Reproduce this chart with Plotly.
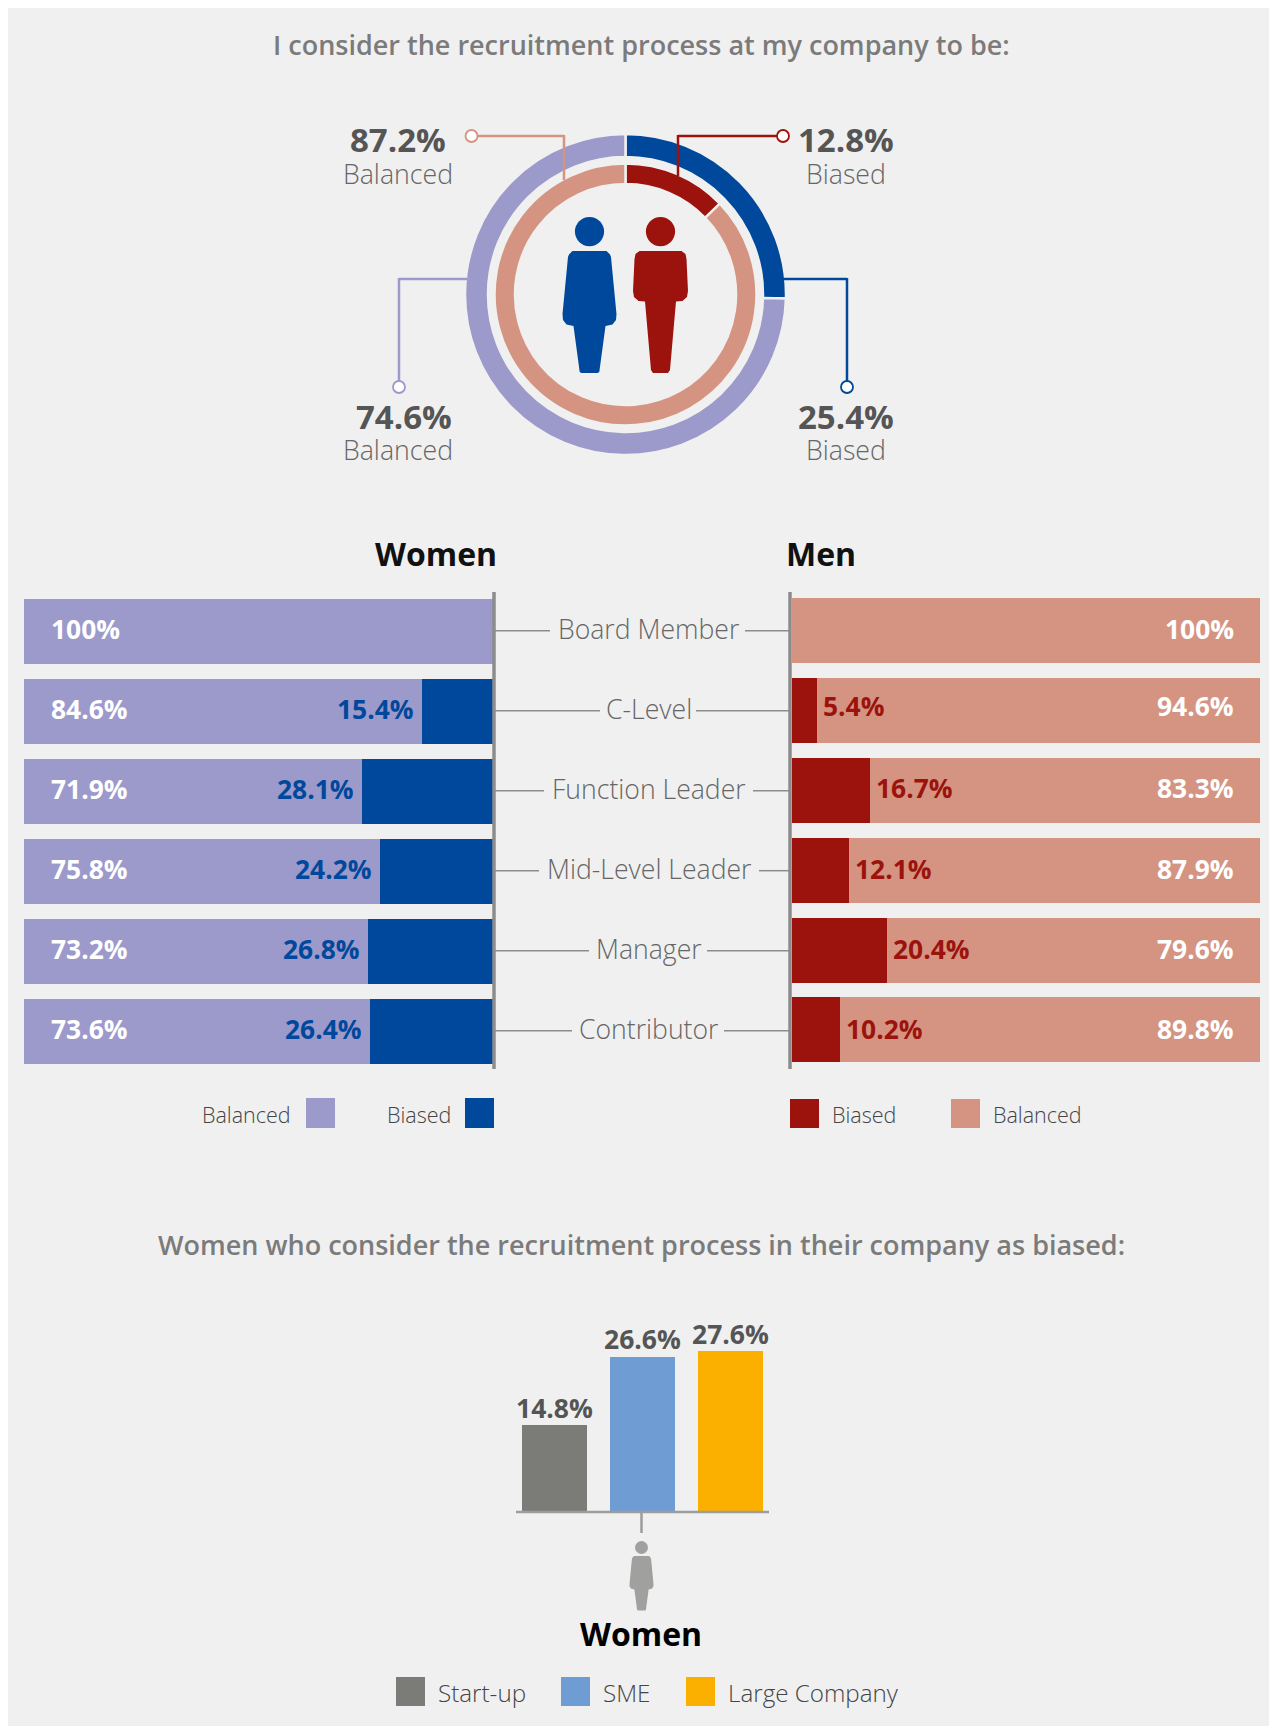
import plotly.graph_objects as go

# ---------- data ----------
categories = ["Board Member", "C-Level", "Function Leader", "Mid-Level Leader", "Manager", "Contributor"]
women_balanced = [100, 84.6, 71.9, 75.8, 73.2, 73.6]
women_biased = [0, 15.4, 28.1, 24.2, 26.8, 26.4]
men_biased = [0, 5.4, 16.7, 12.1, 20.4, 10.2]
men_balanced = [100, 94.6, 83.3, 87.9, 79.6, 89.8]
donut_labels = ["Biased", "Balanced"]
donut_women = [25.4, 74.6]
donut_men = [12.8, 87.2]
size_labels = ["Start-up", "SME", "Large Company"]
size_values = [14.8, 26.6, 27.6]

# ---------- style ----------
BG = "#f0f0f0"
LAV = "#9c99cb"
BLUE = "#00489b"
RED = "#9c130e"
SALMON = "#d59482"
AXIS = "#8c8c8c"
TXT = "#555555"
LIGHT = "#666666"
SIZE_COL = ["#7b7c78", "#6f9dd3", "#fbb000"]
FONT = "Open Sans"
W, H = 1261, 1718
OX, OY = 8, 8


def px(x):
    return (x - OX) / W


def py(y):
    return 1 - (y - OY) / H


def xdom(a, b):
    return [px(a), px(b)]


def ydom(top, bottom):
    return [py(bottom), py(top)]


fig = go.Figure()

# ---------- donuts ----------
def donut(vals, colors, cx, cy, r_out, r_in):
    fig.add_trace(go.Pie(
        values=vals, labels=donut_labels, sort=False, direction="clockwise", rotation=0,
        hole=r_in / r_out, textinfo="none", hoverinfo="label+value", showlegend=False,
        marker=dict(colors=colors, line=dict(color=BG, width=2.5)),
        domain=dict(x=xdom(cx - r_out, cx + r_out), y=ydom(cy - r_out, cy + r_out)),
    ))


donut(donut_women, [BLUE, LAV], 625.5, 294.5, 160.5, 137.5)
donut(donut_men, [RED, SALMON], 625.5, 294.5, 131, 110.5)

# ---------- stacked bars ----------
W_PITCH, M_PITCH = 80.0, 79.8
fig.add_trace(go.Bar(y=categories, x=women_balanced, name="Balanced", orientation="h", marker=dict(color=LAV, line=dict(width=0)),
                     width=65 / W_PITCH, xaxis="x", yaxis="y", showlegend=False))
fig.add_trace(go.Bar(y=categories, x=women_biased, name="Biased", orientation="h", marker=dict(color=BLUE, line=dict(width=0)),
                     width=65 / W_PITCH, xaxis="x", yaxis="y", showlegend=False))
fig.add_trace(go.Bar(y=categories, x=men_biased, name="Biased", orientation="h", marker=dict(color=RED, line=dict(width=0)),
                     width=65 / M_PITCH, xaxis="x2", yaxis="y2", showlegend=False))
fig.add_trace(go.Bar(y=categories, x=men_balanced, name="Balanced", orientation="h", marker=dict(color=SALMON, line=dict(width=0)),
                     width=65 / M_PITCH, xaxis="x2", yaxis="y2", showlegend=False))

# ---------- bottom bars ----------
fig.add_trace(go.Bar(x=size_labels, y=size_values, marker=dict(color=SIZE_COL, line=dict(width=0)), width=65 / 88,
                     cliponaxis=False, xaxis="x3", yaxis="y3", showlegend=False))

hidden = dict(visible=False, fixedrange=True)
fig.update_layout(
    width=W, height=H, autosize=False, margin=dict(l=0, r=0, t=0, b=0, pad=0),
    paper_bgcolor=BG, plot_bgcolor="rgba(0,0,0,0)", barmode="stack", bargap=0,
    font=dict(family=FONT),
    xaxis=dict(domain=xdom(24, 494), range=[0, 100], anchor="y", **hidden),
    yaxis=dict(domain=ydom(590.8, 1070.8), type="category", categoryorder="array", categoryarray=categories,
               range=[5.5, -0.5], anchor="x", **hidden),
    xaxis2=dict(domain=xdom(792, 1260), range=[0, 100], anchor="y2", **hidden),
    yaxis2=dict(domain=ydom(591.1, 1069.9), type="category", categoryorder="array", categoryarray=categories,
                range=[5.5, -0.5], anchor="x2", **hidden),
    xaxis3=dict(domain=xdom(510, 774), type="category", categoryorder="array", categoryarray=size_labels,
                range=[-0.5, 2.5], anchor="y3", **hidden),
    yaxis3=dict(domain=ydom(1337.3, 1511), range=[0, 30], anchor="x3", **hidden),
)

shapes = []
ann = []


def line(x0, y0, x1, y1, color, width=2.5):
    shapes.append(dict(type="line", xref="paper", yref="paper", x0=px(x0), y0=py(y0), x1=px(x1), y1=py(y1),
                       line=dict(color=color, width=width), layer="above"))


def rect(x0, y0, x1, y1, color):
    shapes.append(dict(type="rect", xref="paper", yref="paper", x0=px(x0), y0=py(y0), x1=px(x1), y1=py(y1),
                       fillcolor=color, line=dict(width=0), layer="above"))


def circle(cx, cy, r, fill, stroke, width=1.8):
    shapes.append(dict(type="circle", xref="paper", yref="paper", x0=px(cx - r), y0=py(cy + r), x1=px(cx + r),
                       y1=py(cy - r), fillcolor=fill, line=dict(color=stroke, width=width), layer="above"))


def poly(points, color):
    d = "M " + " L ".join(f"{px(x):.5f},{py(y):.5f}" for x, y in points) + " Z"
    shapes.append(dict(type="path", xref="paper", yref="paper", path=d, fillcolor=color, line=dict(width=0),
                       layer="above"))


def text(x, y, s, size, color=TXT, weight=400, anchor="center"):
    ann.append(dict(xref="paper", yref="paper", x=px(x), y=py(y), text=s, showarrow=False, xanchor=anchor,
                    yanchor="middle", font=dict(family=FONT, size=size, color=color, weight=weight),
                    borderpad=0, borderwidth=0))


def head(cx, top, s, color):
    hy = top + 14.6 * s
    shapes.append(dict(type="circle", xref="paper", yref="paper", x0=px(cx - 14.6 * s), x1=px(cx + 14.6 * s),
                       y0=py(hy + 14.6 * s), y1=py(hy - 14.6 * s), fillcolor=color, line=dict(width=0), layer="above"))


def woman(cx, top, s, color):
    head(cx, top, s, color)
    body = [(-17, 34), (17, 34), (20.5, 37.5), (21.5, 40), (27, 97), (26.5, 103), (23, 107.5), (16, 109),
            (9.8, 155), (8, 156), (-8, 156), (-9.8, 155), (-16, 109), (-23, 107.5), (-26.5, 103), (-27, 97),
            (-21.5, 40), (-20.5, 37.5)]
    poly([(cx + a * s, top + b * s) for a, b in body], color)


def man(cx, top, s, color):
    head(cx, top, s, color)
    body = [(-21, 34), (21, 34), (25, 37), (26, 42), (27.5, 74), (26.5, 80), (22, 84), (15.5, 84.5), (9.5, 153),
            (7.5, 156), (-7.5, 156), (-9.5, 153), (-15.5, 84.5), (-22, 84), (-26.5, 80), (-27.5, 74), (-26, 42),
            (-25, 37)]
    poly([(cx + a * s, top + b * s) for a, b in body], color)


# titles
text(641, 45, "I consider the recruitment process at my company to be:", 27, "#7b7b7b", 600)
text(641, 1244.5, "Women who consider the recruitment process in their company as biased:", 27, "#7b7b7b", 600)

# donut call-outs
line(471, 136, 564, 136, SALMON); line(564, 135, 564, 180, SALMON); circle(471.5, 136, 6, "#ffffff", SALMON)
line(678, 136, 783, 136, RED); line(678, 135, 678, 176, RED); circle(783, 136, 6, "#ffffff", RED)
line(399, 279, 467, 279, LAV); line(399, 278, 399, 387, LAV); circle(399, 387, 6, "#ffffff", LAV)
line(783, 279, 847, 279, BLUE); line(847, 278, 847, 387, BLUE); circle(847, 387, 6, "#ffffff", BLUE)

woman(589.5, 217, 1.0, BLUE)
man(660.5, 217, 1.0, RED)

text(398, 139, f"{donut_men[1]}%", 33, TXT, 700)
text(398, 174, donut_labels[1], 26.7, LIGHT, 300)
text(404, 416, f"{donut_women[1]}%", 33, TXT, 700)
text(398, 450, donut_labels[1], 26.7, LIGHT, 300)
text(846, 139, f"{donut_men[0]}%", 33, TXT, 700)
text(846, 174, donut_labels[0], 26.7, LIGHT, 300)
text(846, 416, f"{donut_women[0]}%", 33, TXT, 700)
text(846, 450, donut_labels[0], 26.7, LIGHT, 300)

# headers
text(435.5, 554, "Women", 32, "#111111", 700)
text(821, 554, "Men", 32, "#111111", 700)

# axis rails
line(494, 592, 494, 1069, AXIS, 3.5)
line(790, 592, 790, 1069, AXIS, 3.5)

# centre labels and leaders
gaps = [(550, 745), (600, 696), (544, 753), (539, 759), (589, 707), (572, 724)]
for i, c in enumerate(categories):
    yc = 630.7 + 80 * i
    text(648.5, yc - 1.5, c, 26.6, LIGHT, 300)
    line(495, yc, gaps[i][0], yc, AXIS, 1.5)
    line(gaps[i][1], yc, 789, yc, AXIS, 1.5)

# value labels
men_lift = [2.5, 5, 2.5, 1.5, 1.5, 1.5]
for c, bal, bia in zip(categories, women_balanced, women_biased):
    ann.append(dict(xref="x", yref="y", x=0, y=c, xshift=24.5, yshift=2, text=f"{bal}%", showarrow=False, xanchor="left",
                    font=dict(family=FONT, size=26.4, color="#ffffff", weight=700)))
    if bia:
        ann.append(dict(xref="x", yref="y", x=100 - bia, y=c, xshift=-6, yshift=2, text=f"{bia}%", showarrow=False,
                        xanchor="right", font=dict(family=FONT, size=26.4, color=BLUE, weight=700)))
for i, (c, bal, bia) in enumerate(zip(categories, men_balanced, men_biased)):
    ann.append(dict(xref="x2", yref="y2", x=100, y=c, xshift=-24, yshift=men_lift[i], text=f"{bal}%", showarrow=False, xanchor="right",
                    font=dict(family=FONT, size=26.4, color="#ffffff", weight=700)))
    if bia:
        ann.append(dict(xref="x2", yref="y2", x=bia, y=c, xshift=4, yshift=men_lift[i], text=f"{bia}%", showarrow=False,
                        xanchor="left", font=dict(family=FONT, size=26.4, color=RED, weight=700)))

# labels of the bottom bars
for lab, val in zip(size_labels, size_values):
    ann.append(dict(xref="x3", yref="y3", x=lab, y=val, yanchor="bottom", yshift=-2.5, text=f"{val}%", showarrow=False,
                    font=dict(family=FONT, size=26.5, color=TXT, weight=700)))

# legends for the stacked bars
KEY = "#444444"
rect(306, 1098, 335, 1128, LAV); text(291, 1114, "Balanced", 21.5, KEY, 300, "right")
rect(465, 1098, 494, 1128, BLUE); text(451, 1114, "Biased", 21.5, KEY, 300, "right")
rect(790, 1099, 819, 1128, RED); text(832, 1114, "Biased", 21.5, KEY, 300, "left")
rect(951, 1099, 980, 1128, SALMON); text(993, 1114, "Balanced", 21.5, KEY, 300, "left")

# bottom chart furniture
line(516, 1512, 769, 1512, "#9d9d9c", 2.5)
line(641.5, 1512, 641.5, 1533, "#9d9d9c", 2.5)
woman(641.5, 1541, 0.445, "#a0a19f")
text(641, 1633, "Women", 32, "#000000", 700)
rect(396, 1677, 425, 1706, SIZE_COL[0]); text(438, 1692, size_labels[0], 24.2, KEY, 300, "left")
rect(561, 1677, 590, 1706, SIZE_COL[1]); text(603, 1692, size_labels[1], 24.2, KEY, 300, "left")
rect(686, 1677, 715, 1706, SIZE_COL[2]); text(728, 1692, size_labels[2], 24.2, KEY, 300, "left")

fig.update_layout(shapes=shapes, annotations=ann)
fig.write_html("out.html", config=dict(displayModeBar=False),
               post_script="document.documentElement.style.overflow='hidden';document.body.style.margin='8px 0 0 8px';")
